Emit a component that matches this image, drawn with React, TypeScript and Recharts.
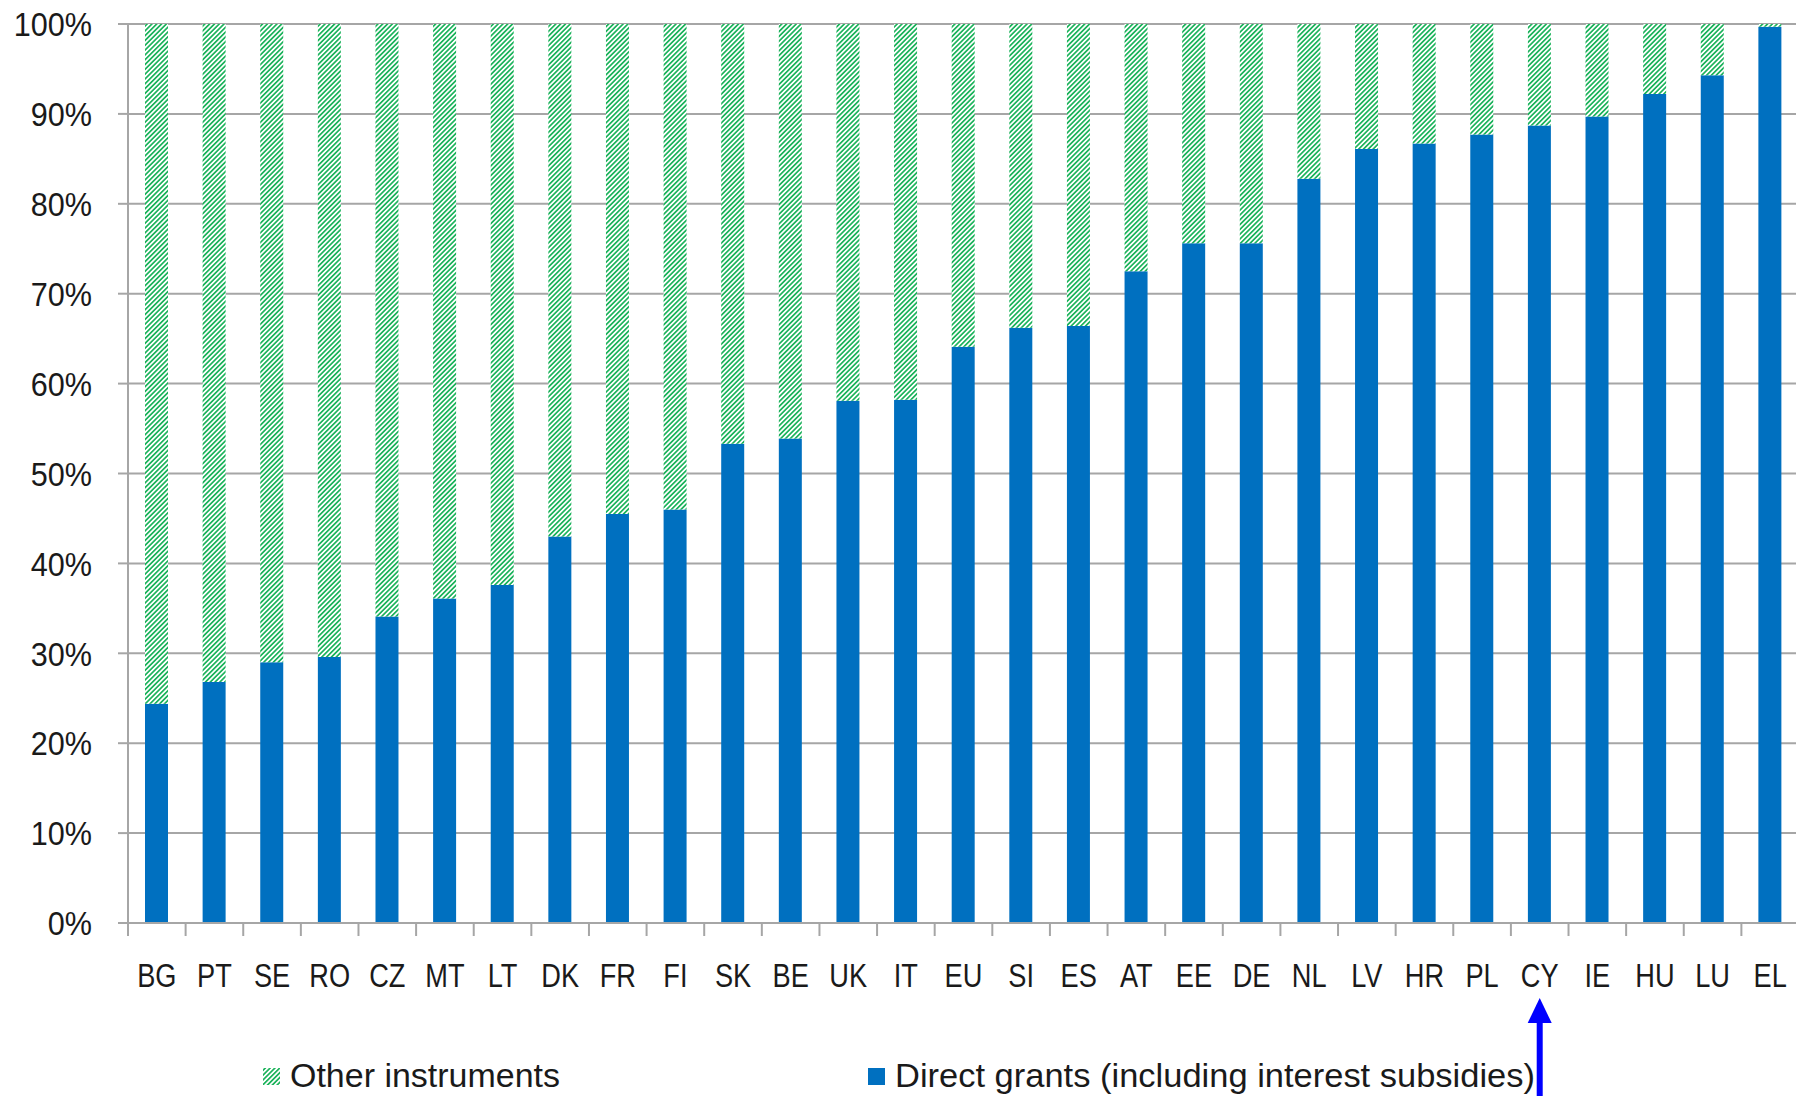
import React from 'react';
import { BarChart, Bar, XAxis, YAxis, CartesianGrid, Legend } from 'recharts';

const categories = ['BG', 'PT', 'SE', 'RO', 'CZ', 'MT', 'LT', 'DK', 'FR', 'FI', 'SK', 'BE', 'UK', 'IT', 'EU', 'SI', 'ES', 'AT', 'EE', 'DE', 'NL', 'LV', 'HR', 'PL', 'CY', 'IE', 'HU', 'LU', 'EL'];
const directGrants = [24.4, 26.8, 29.0, 29.6, 34.1, 36.1, 37.6, 43.0, 45.5, 46.0, 53.3, 53.9, 58.1, 58.2, 64.1, 66.2, 66.4, 72.5, 75.6, 75.6, 82.8, 86.1, 86.7, 87.7, 88.7, 89.7, 92.2, 94.3, 99.7];
const otherInstruments = [75.6, 73.2, 71.0, 70.4, 65.9, 63.9, 62.4, 57.0, 54.5, 54.0, 46.7, 46.1, 41.9, 41.8, 35.9, 33.8, 33.6, 27.5, 24.4, 24.4, 17.2, 13.9, 13.3, 12.3, 11.3, 10.3, 7.8, 5.7, 0.3];
const yTicks = [0, 10, 20, 30, 40, 50, 60, 70, 80, 90, 100];
const highlighted = 'CY';
const seriesNames = { other: 'Other instruments', direct: 'Direct grants (including interest subsidies)' };

const data = categories.map((c, i) => ({ name: c, direct: directGrants[i], other: otherInstruments[i] }));

const W = 1796;
const H = 1088;
const BLUE = '#0070C0';
const GREEN = '#1DB35C';
const GRID = '#A6A6A6';
const FONT = '"Liberation Sans", Arial, sans-serif';

function HatchPattern({ id }: { id: string }) {
  return (
    <pattern id={id} patternUnits="userSpaceOnUse" width={3.4} height={3.4} patternTransform="rotate(45)">
      <rect width={3.4} height={3.4} fill="#fff" />
      <rect width={1.7} height={3.4} fill={GREEN} />
    </pattern>
  );
}

function XTick(props: any) {
  const { x, y, payload, index, visibleTicksCount } = props;
  const half = payload && typeof payload.offset === 'number' && payload.offset > 0 ? payload.offset : 1671 / 29 / 2;
  const isLast = index === visibleTicksCount - 1;
  return (
    <g>
      <line x1={x - half} y1={y} x2={x - half} y2={y + 13} stroke={GRID} strokeWidth={2} />
      {isLast && <line x1={x + half} y1={y} x2={x + half} y2={y + 13} stroke={GRID} strokeWidth={2} />}
      <text
        transform={`translate(${x},${y + 64}) scale(0.8,1)`}
        textAnchor="middle"
        fontSize={34}
        fontFamily={FONT}
        fill="#1a1a1a"
      >
        {payload.value}
      </text>
      {payload.value === highlighted && (
        <g>
          <polygon points={`${x},${y + 75} ${x - 12},${y + 100} ${x + 12},${y + 100}`} fill="#0000FF" />
          <rect x={x - 3} y={y + 99} width={6} height={90} fill="#0000FF" />
        </g>
      )}
    </g>
  );
}

function YTick(props: any) {
  const { x, y, payload } = props;
  return (
    <text
      transform={`translate(${x},${y}) scale(0.9,1)`}
      textAnchor="end"
      dy="0.36em"
      fontSize={34}
      fontFamily={FONT}
      fill="#1a1a1a"
    >
      {`${payload.value}%`}
    </text>
  );
}

function LegendContent() {
  return (
    <svg width={W} height={70} style={{ display: 'block', overflow: 'visible' }}>
      <defs>
        <HatchPattern id="hatchGreenLegend" />
      </defs>
      <rect x={255} y={42} width={17} height={17} fill="url(#hatchGreenLegend)" />
      <text x={282} y={61} fontSize={34} fontFamily={FONT} fill="#1a1a1a" textLength={270} lengthAdjust="spacingAndGlyphs">
        {seriesNames.other}
      </text>
      <rect x={860} y={42} width={17} height={17} fill={BLUE} />
      <text x={887} y={61} fontSize={34} fontFamily={FONT} fill="#1a1a1a" textLength={640} lengthAdjust="spacingAndGlyphs">
        {seriesNames.direct}
      </text>
    </svg>
  );
}

export default function App() {
  return (
    <div style={{ width: W, height: H, background: '#fff' }}>
      <BarChart
        width={W}
        height={H}
        data={data}
        margin={{ top: 16, right: 5, left: 0, bottom: 0 }}
        barSize={23}
      >
        <defs>
          <HatchPattern id="hatchGreen" />
        </defs>
        <CartesianGrid vertical={false} stroke={GRID} strokeWidth={2} />
        <XAxis
          dataKey="name"
          height={103}
          tickSize={0}
          tickMargin={0}
          tickLine={false}
          axisLine={{ stroke: GRID, strokeWidth: 2 }}
          interval={0}
          tick={<XTick />}
        />
        <YAxis
          width={120}
          domain={[0, 100]}
          ticks={yTicks}
          tickSize={10}
          tickMargin={26}
          axisLine={{ stroke: GRID, strokeWidth: 2 }}
          tickLine={{ stroke: GRID, strokeWidth: 2 }}
          tick={<YTick />}
          interval={0}
        />
        <Legend
          verticalAlign="bottom"
          height={70}
          content={() => <LegendContent />}
          wrapperStyle={{ left: 0, width: W, height: 70 }}
        />
        <Bar dataKey="direct" name={seriesNames.direct} stackId="a" fill={BLUE} isAnimationActive={false} />
        <Bar dataKey="other" name={seriesNames.other} stackId="a" fill="url(#hatchGreen)" isAnimationActive={false} />
      </BarChart>
    </div>
  );
}
